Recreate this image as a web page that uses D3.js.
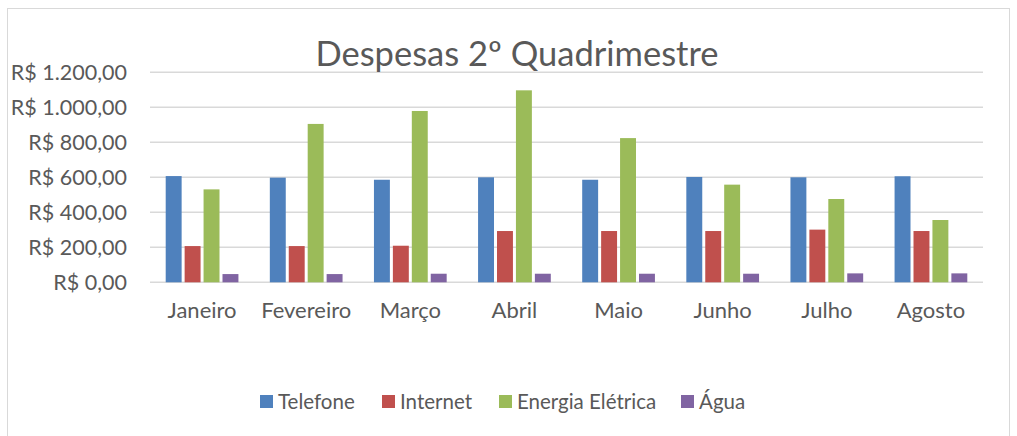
<!DOCTYPE html>
<html>
<head>
<meta charset="utf-8">
<script src="https://cdn.jsdelivr.net/npm/d3@7"></script>
<style>
  body { margin: 0; background: #fff; }
  text { font-family: Lato, "Open Sans", sans-serif; fill: #595959; }
</style>
</head>
<body>
<div id="chart"></div>
<script>
const months = ["Janeiro", "Fevereiro", "Março", "Abril", "Maio", "Junho", "Julho", "Agosto"];
const seriesNames = ["Telefone", "Internet", "Energia Elétrica", "Água"];
const telefone = [607, 598, 586, 600, 586, 602, 600, 606];
const internet = [207, 207, 209, 293, 293, 293, 301, 293];
const energia = [531, 905, 979, 1097, 824, 558, 476, 356];
const agua = [47, 47, 49, 49, 49, 49, 51, 51];
const yTicks = [0, 200, 400, 600, 800, 1000, 1200];
const colors = ["#4F81BD", "#C0504D", "#9BBB59", "#8064A2"];

const width = 1017, height = 436;
const margin = {top: 72, right: 34, bottom: 154, left: 150};
const allSeries = [telefone, internet, energia, agua];

const svg = d3.select("#chart").append("svg")
  .attr("width", width)
  .attr("height", height);

// outer chart border
svg.append("rect")
  .attr("x", 7.5).attr("y", 8.5)
  .attr("width", 1002).attr("height", 440)
  .attr("fill", "none")
  .attr("stroke", "#d9d9d9")
  .attr("stroke-width", 1);

const x = d3.scaleBand()
  .domain(months)
  .range([margin.left, width - margin.right]);

// excel style gap width 150%
const gap = x.bandwidth() * 0.75 / 5.5;
const xSub = d3.scaleBand()
  .domain(d3.range(seriesNames.length))
  .range([gap, x.bandwidth() - gap]);

const y = d3.scaleLinear()
  .domain([0, 1200])
  .range([282.3, 72.3]);

// gridlines
svg.append("g")
  .selectAll("line")
  .data(yTicks)
  .enter()
  .append("line")
  .attr("x1", margin.left)
  .attr("x2", width - margin.right)
  .attr("y1", d => y(d))
  .attr("y2", d => y(d))
  .attr("stroke", "#d9d9d9")
  .attr("stroke-width", 1.5);

const fmt = v => "R$ " + d3.format(",.2f")(v).replace(/,/g, "#").replace(".", ",").replace(/#/g, ".");

const yAxis = d3.axisLeft(y)
  .tickValues(yTicks)
  .tickSize(0)
  .tickPadding(23)
  .tickFormat(fmt);

svg.append("g")
  .attr("transform", `translate(${margin.left},0)`)
  .call(yAxis)
  .call(g => g.select(".domain").remove())
  .selectAll("text")
  .style("font-size", "21.5px")
  .style("font-family", "Lato, 'Open Sans', sans-serif")
  .attr("fill", "#595959");

const xAxis = d3.axisBottom(x).tickSize(0).tickPadding(20);
svg.append("g")
  .attr("transform", `translate(0,${y(0)})`)
  .call(xAxis)
  .call(g => g.select(".domain").remove())
  .selectAll("text")
  .style("font-size", "22px")
  .style("font-family", "Lato, 'Open Sans', sans-serif")
  .attr("fill", "#595959");

// bars
const groups = svg.append("g")
  .selectAll("g")
  .data(months)
  .enter()
  .append("g")
  .attr("transform", d => `translate(${x(d)},0)`);

groups.selectAll("rect")
  .data((m, i) => allSeries.map((s, k) => ({k, v: s[i]})))
  .enter()
  .append("rect")
  .attr("x", d => xSub(d.k) + 1.5)
  .attr("width", xSub.bandwidth() - 3)
  .attr("y", d => y(d.v))
  .attr("height", d => y(0) - y(d.v))
  .attr("fill", d => colors[d.k]);

// title
svg.append("text")
  .attr("x", 517)
  .attr("y", 66)
  .attr("text-anchor", "middle")
  .style("font-size", "34.5px")
  .text("Despesas 2º Quadrimestre");

// legend
const legendX = [260, 382, 499, 681];
const legend = svg.append("g")
  .selectAll("g")
  .data(seriesNames)
  .enter()
  .append("g")
  .attr("transform", (d, i) => `translate(${legendX[i]},395)`);

legend.append("rect")
  .attr("width", 13)
  .attr("height", 13)
  .attr("fill", (d, i) => colors[i]);

legend.append("text")
  .attr("x", 18)
  .attr("y", 14)
  .style("font-size", "20.5px")
  .text(d => d);
</script>
</body>
</html>
